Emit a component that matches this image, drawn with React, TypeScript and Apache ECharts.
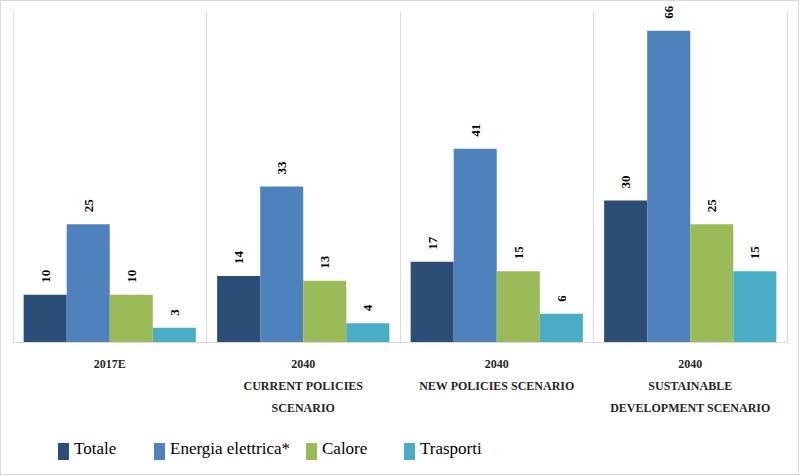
import React, { useEffect, useRef } from "react";
import * as echarts from "echarts";

const categories = [
  "2017E",
  "2040\nCURRENT POLICIES\nSCENARIO",
  "2040\nNEW POLICIES SCENARIO",
  "2040\nSUSTAINABLE\nDEVELOPMENT SCENARIO",
];
const seriesNames = ["Totale", "Energia elettrica*", "Calore", "Trasporti"];
const totale = [10, 14, 17, 30];
const energia = [25, 33, 41, 66];
const calore = [10, 13, 15, 25];
const trasporti = [3, 4, 6, 15];
const colors = ["#2C4D75", "#4F81BD", "#9BBB59", "#4BACC6"];
const legendLefts = [58, 154, 306, 404];

export default function App() {
  const ref = useRef<HTMLDivElement>(null);
  useEffect(() => {
    document.body.style.margin = "0";
    const chart = echarts.init(ref.current!, null, { renderer: "svg" });
    const data = [totale, energia, calore, trasporti];
    const font = "Liberation Serif";
    chart.setOption({
      animation: false,
      textStyle: { fontFamily: font },
      grid: { left: 13, right: 13, top: 12, bottom: 134 },
      legend: seriesNames.map((n, i) => ({
        data: [n],
        left: legendLefts[i],
        top: 440,
        icon: "rect",
        itemWidth: 11,
        itemHeight: 17,
        itemGap: 0,
        padding: 0,
        formatter: "{t|{name}}",
        textStyle: {
          fontFamily: font,
          fontSize: 17,
          color: "#000",
          rich: { t: { fontFamily: font, fontSize: 17, color: "#000", padding: [0, 0, 6, 0] } },
        },
      })),
      xAxis: {
        type: "category",
        data: categories,
        axisLine: { show: true, lineStyle: { color: "#d9d9d9" } },
        axisTick: { show: false },
        splitLine: { show: true, lineStyle: { color: "#d9d9d9", width: 1 } },
        axisLabel: {
          interval: 0,
          margin: 11,
          fontFamily: font,
          fontSize: 12,
          fontWeight: "bold",
          color: "#262626",
          lineHeight: 22,
          verticalAlign: "top",
        },
      },
      yAxis: {
        type: "value",
        min: 0,
        max: 70,
        show: false,
        splitLine: { show: false },
      },
      series: data.map((d, i) => ({
        name: seriesNames[i],
        type: "bar",
        data: d,
        barGap: "0%",
        barCategoryGap: "11%",
        itemStyle: { color: colors[i] },
        label: {
          show: true,
          position: "top",
          rotate: 90,
          align: "left",
          verticalAlign: "middle",
          distance: 12,
          fontFamily: font,
          fontSize: 13,
          fontWeight: "bold",
          color: "#000",
        },
      })),
      graphic: [
        {
          type: "rect",
          shape: { x: 0.5, y: 0.5, width: 798, height: 474 },
          style: { fill: "none", stroke: "#d9d9d9", lineWidth: 1 },
          silent: true,
        },
      ],
    });
    return () => chart.dispose();
  }, []);
  return <div ref={ref} style={{ width: 800, height: 476 }} />;
}
